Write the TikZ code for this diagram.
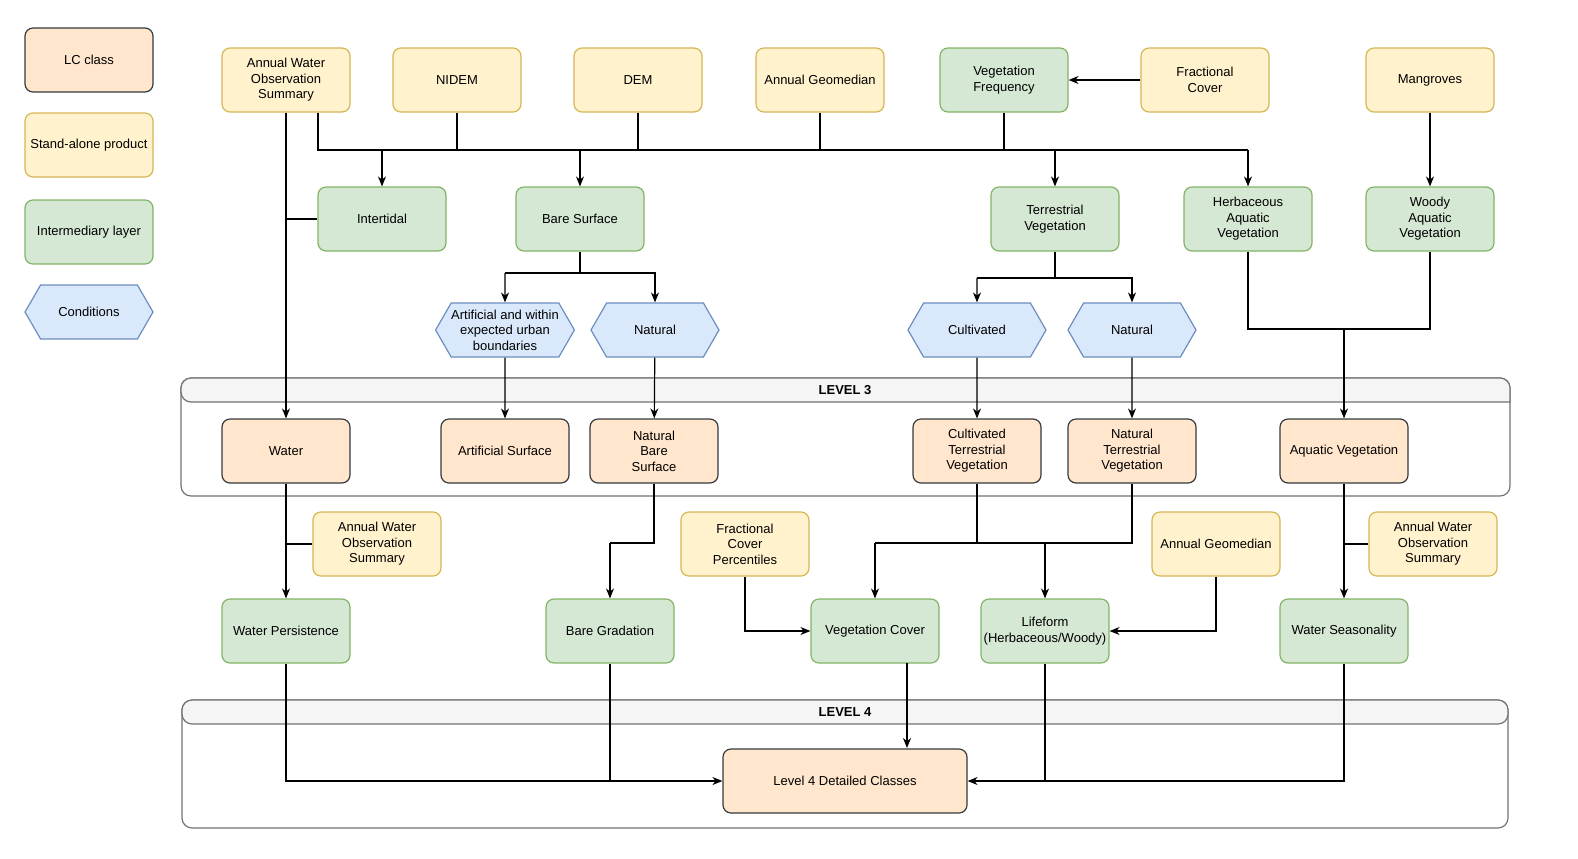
\documentclass[tikz,border=0pt]{standalone}
\usepackage{fontspec}
\setmainfont{Liberation Sans}
\usetikzlibrary{shapes.symbols,arrows.meta}
\definecolor{lcF}{HTML}{FFE6CC}\definecolor{lcD}{HTML}{36393D}
\definecolor{saF}{HTML}{FFF2CC}\definecolor{saD}{HTML}{D6B656}
\definecolor{imF}{HTML}{D5E8D4}\definecolor{imD}{HTML}{82B366}
\definecolor{cdF}{HTML}{DAE8FC}\definecolor{cdD}{HTML}{6C8EBF}
\begin{document}
\begin{tikzpicture}[x=0.5pt,y=-0.5pt,
 base/.style={draw,rounded corners=4pt,minimum width=64pt,minimum height=32pt,align=center,font=\fontsize{6.5}{7.8}\selectfont,line width=0.6pt,inner sep=1pt},
 lc/.style={base,fill=lcF,draw=lcD},
 sa/.style={base,fill=saF,draw=saD},
 im/.style={base,fill=imF,draw=imD},
 cd/.style={signal,signal to=east and west,signal pointer angle=120,fill=cdF,draw=cdD,minimum width=64pt,minimum height=27pt,align=center,font=\fontsize{6.5}{7.8}\selectfont,line width=0.6pt,inner sep=1pt,inner xsep=0pt},
 ln/.style={line width=0.6pt},
 ar/.style={ln,-{Stealth[length=5pt,width=4pt]}},
 cont/.style={draw=black!55,line width=0.6pt,rounded corners=5pt}]
\useasboundingbox (0,0) rectangle (1578,858);
% containers
\draw[cont,fill=white] (181,378) rectangle (1510,496);
\draw[cont,fill=black!4] (181,378) [rounded corners=5pt] -- (181,402) [sharp corners] -- (1510,402) [rounded corners=5pt]-- (1510,378) -- cycle;
\node[font=\bfseries\fontsize{6.5}{7.8}\selectfont] (l3) at (845,390) {LEVEL 3};
\draw[cont,fill=white] (182,700) rectangle (1508,828);
\draw[cont,fill=black!4] (182,724) -- (182,700) -- (1508,700) -- (1508,724) -- cycle;
\node[font=\bfseries\fontsize{6.5}{7.8}\selectfont] (l4) at (845,712) {LEVEL 4};
% legend
\node[lc] (lgA) at (89,60) {LC class};
\node[sa] (lgB) at (89,145) {Stand-alone product};
\node[im] (lgC) at (89,232) {Intermediary layer};
\node[cd] (lgD) at (89,312) {Conditions};
% top row
\node[sa] (awos) at (286,80) {Annual Water\\Observation\\Summary};
\node[sa] (nidem) at (457,80) {NIDEM};
\node[sa] (dem) at (638,80) {DEM};
\node[sa] (ag) at (820,80) {Annual Geomedian};
\node[im] (vf) at (1004,80) {Vegetation\\Frequency};
\node[sa] (fc) at (1205,80) {Fractional\\Cover};
\node[sa] (mang) at (1430,80) {Mangroves};
% row 2
\node[im] (inter) at (382,219) {Intertidal};
\node[im] (bare) at (580,219) {Bare Surface};
\node[im] (terr) at (1055,219) {Terrestrial\\Vegetation};
\node[im] (herb) at (1248,219) {Herbaceous\\Aquatic\\Vegetation};
\node[im] (woody) at (1430,219) {Woody\\Aquatic\\Vegetation};
% conditions
\node[cd,minimum width=69pt] (cart) at (505,330) {Artificial and within\\expected urban\\boundaries};
\node[cd] (cnat) at (655,330) {Natural};
\node[cd,minimum width=69pt] (ccult) at (977,330) {Cultivated};
\node[cd] (cnat2) at (1132,330) {Natural};
% LC
\node[lc] (water) at (286,451) {Water};
\node[lc] (art) at (505,451) {Artificial Surface};
\node[lc] (nbs) at (654,451) {Natural\\Bare\\Surface};
\node[lc] (ctv) at (977,451) {Cultivated\\Terrestrial\\Vegetation};
\node[lc] (ntv) at (1132,451) {Natural\\Terrestrial\\Vegetation};
\node[lc] (aqv) at (1344,451) {Aquatic Vegetation};
% standalone row
\node[sa] (awos2) at (377,544) {Annual Water\\Observation\\Summary};
\node[sa] (fcp) at (745,544) {Fractional\\Cover\\Percentiles};
\node[sa] (ag2) at (1216,544) {Annual Geomedian};
\node[sa] (awos3) at (1433,544) {Annual Water\\Observation\\Summary};
% intermediate
\node[im] (wp) at (286,631) {Water Persistence};
\node[im] (bg) at (610,631) {Bare Gradation};
\node[im] (vc) at (875,631) {Vegetation Cover};
\node[im] (life) at (1045,631) {Lifeform\\(Herbaceous/Woody)};
\node[im] (ws) at (1344,631) {Water Seasonality};
\node[lc,minimum width=122pt] (l4c) at (845,781) {Level 4 Detailed Classes};
% edges top
\draw[ar] (awos) -- (water);
\draw[ln] (286,219) -- (inter.west);
\draw[ln] (awos.south -| 318,0) -- (318,150) -- (1248,150);
\draw[ln] (nidem) -- (nidem.south |- 0,150);
\draw[ln] (dem) -- (dem.south |- 0,150);
\draw[ln] (ag) -- (ag.south |- 0,150);
\draw[ln] (vf) -- (vf.south |- 0,150);
\draw[ar] (inter.north |- 0,150) -- (inter);
\draw[ar] (bare.north |- 0,150) -- (bare);
\draw[ar] (terr.north |- 0,150) -- (terr);
\draw[ar] (1248,150) -- (herb);
\draw[ar] (fc) -- (vf);
\draw[ar] (mang) -- (woody);
\draw[ln] (bare) -- (580,273) -- (505,273);
\draw[ar] (505,273) -- (cart);
\draw[ar] (580,273) -| (cnat);
\draw[ln] (terr) -- (1055,278) -- (977,278);
\draw[ar] (977,278) -- (ccult);
\draw[ar] (1055,278) -| (cnat2);
\draw[ar] (cart) -- (art);
\draw[ar] (cnat) -- (nbs);
\draw[ar] (ccult) -- (ctv);
\draw[ar] (cnat2) -- (ntv);
\draw[ln] (herb) -- (1248,329) -- (1430,329) -- (woody);
\draw[ar] (1344,329) -- (aqv);
% mid
\draw[ar] (water) -- (wp);
\draw[ln] (awos2.west) -- (286,544);
\draw[ln] (nbs) -- (654,543) -- (610,543);
\draw[ar] (610,543) -- (bg);
\draw[ar] (fcp) |- (vc);
\draw[ln] (ctv) -- (977,543) -- (875,543);
\draw[ar] (875,543) -- (vc);
\draw[ln] (ntv) -- (1132,543) -- (977,543);
\draw[ar] (1045,543) -- (life);
\draw[ar] (ag2) |- (life);
\draw[ar] (aqv) -- (ws);
\draw[ln] (awos3.west) -- (1344,544);
% bottom
\draw[ar] (wp) |- (l4c);
\draw[ln] (bg) -- (610,781);
\draw[ar] (907,663) -- (907,748);
\draw[ar] (ws) |- (l4c);
\draw[ln] (life) -- (1045,781);
\end{tikzpicture}
\end{document}
